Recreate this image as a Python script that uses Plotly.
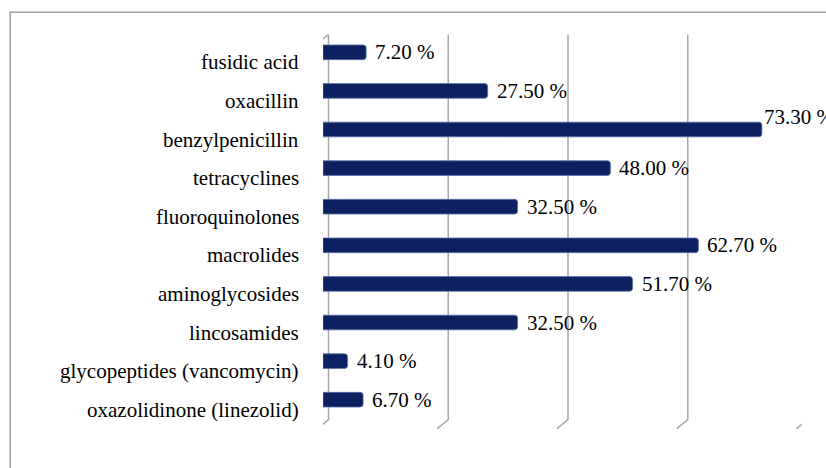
import plotly.graph_objects as go

# ---- data (bottom to top) ----
categories = [
    "oxazolidinone (linezolid)",
    "glycopeptides (vancomycin)",
    "lincosamides",
    "aminoglycosides",
    "macrolides",
    "fluoroquinolones",
    "tetracyclines",
    "benzylpenicillin",
    "oxacillin",
    "fusidic acid",
]
values = [6.7, 4.1, 32.5, 51.7, 62.7, 32.5, 48.0, 73.3, 27.5, 7.2]
value_labels = [f"{v:.2f} %" for v in values]
grid_values = [0, 20, 40, 60, 80]

# ---- layout geometry (pixels) ----
W, H = 826, 468
PL, PR = 322.5, 802.5          # plot area left/right (x=0 .. x=80)
PT, PB = 32.7, 419.3           # plot area top/bottom
FONT = "Liberation Serif"
BAR = "#0d2160"
GRID = "#a8a8a8"

fig = go.Figure()
fig.add_trace(go.Bar(
    x=values, y=categories, orientation="h",
    width=0.38,
    marker=dict(color=BAR, line=dict(width=0.8, color="#5a6ea8"), cornerradius=3),
    hoverinfo="skip",
))

shapes = []
def px2paper_x(px):
    return (px - PL) / (PR - PL)
def px2paper_y(py):
    return (PB - py) / (PB - PT)
# chart border (top and left edges visible)
shapes.append(dict(type="rect", xref="paper", yref="paper",
                   x0=px2paper_x(9), x1=px2paper_x(W + 20),
                   y0=px2paper_y(H + 20), y1=px2paper_y(12),
                   line=dict(color="#a0a0a0", width=1.5), layer="below"))

# back-wall gridlines with perspective foot
top_off = PB - 35
for g in grid_values:
    shapes.append(dict(type="path", xref="x", yref="paper",
                       xsizemode="pixel", ysizemode="pixel",
                       xanchor=g, yanchor=0,
                       path=f"M5.5,{top_off} L5.5,-0.7 L-5.5,-9.7",
                       line=dict(color=GRID, width=1.5), layer="below"))
# front axis line with top slant
shapes.append(dict(type="path", xref="x", yref="paper",
                   xsizemode="pixel", ysizemode="pixel",
                   xanchor=0, yanchor=0,
                   path=f"M5.5,{top_off} L-5.5,{PB - 43} L-5.5,-8.7",
                   line=dict(color=GRID, width=1.5), layer="below"))
# category boundary ticks on front axis
for i in range(len(categories) + 1):
    shapes.append(dict(type="path", xref="x", yref="y",
                       xsizemode="pixel", ysizemode="pixel",
                       xanchor=0, yanchor=i - 0.5,
                       path="M-10.5,-8.7 L-5.5,-8.7",
                       line=dict(color=GRID, width=1.5), layer="below"))

annotations = []
vmax = max(values)
for c, v, t in zip(categories, values, value_labels):
    annotations.append(dict(x=v, y=c, xref="x", yref="y", text=t,
                            showarrow=False, xanchor="left",
                            xshift=0 if v == vmax else 7,
                            yshift=13 if v == vmax else 0,
                            font=dict(family=FONT, size=21, color="black")))
    annotations.append(dict(x=0, y=c, xref="paper", yref="y", text=c,
                            showarrow=False, xanchor="right",
                            xshift=-22.5, yshift=-10,
                            font=dict(family=FONT, size=21, color="black")))

fig.update_layout(
    width=W, height=H,
    margin=dict(l=PL, r=W - PR, t=PT, b=H - PB, pad=0),
    paper_bgcolor="white", plot_bgcolor="rgba(0,0,0,0)",
    showlegend=False,
    shapes=shapes, annotations=annotations,
    xaxis=dict(range=[0, 80], showgrid=False, zeroline=False,
               showticklabels=False, ticks="", showline=False, fixedrange=True),
    yaxis=dict(type="category", categoryorder="array", categoryarray=categories,
               range=[-0.5, len(categories) - 0.5], showgrid=False, zeroline=False,
               showticklabels=False, ticks="", showline=False, fixedrange=True),
)

fig.write_html("out.html", config={"displayModeBar": False},
               post_script="document.body.style.margin='0';")
